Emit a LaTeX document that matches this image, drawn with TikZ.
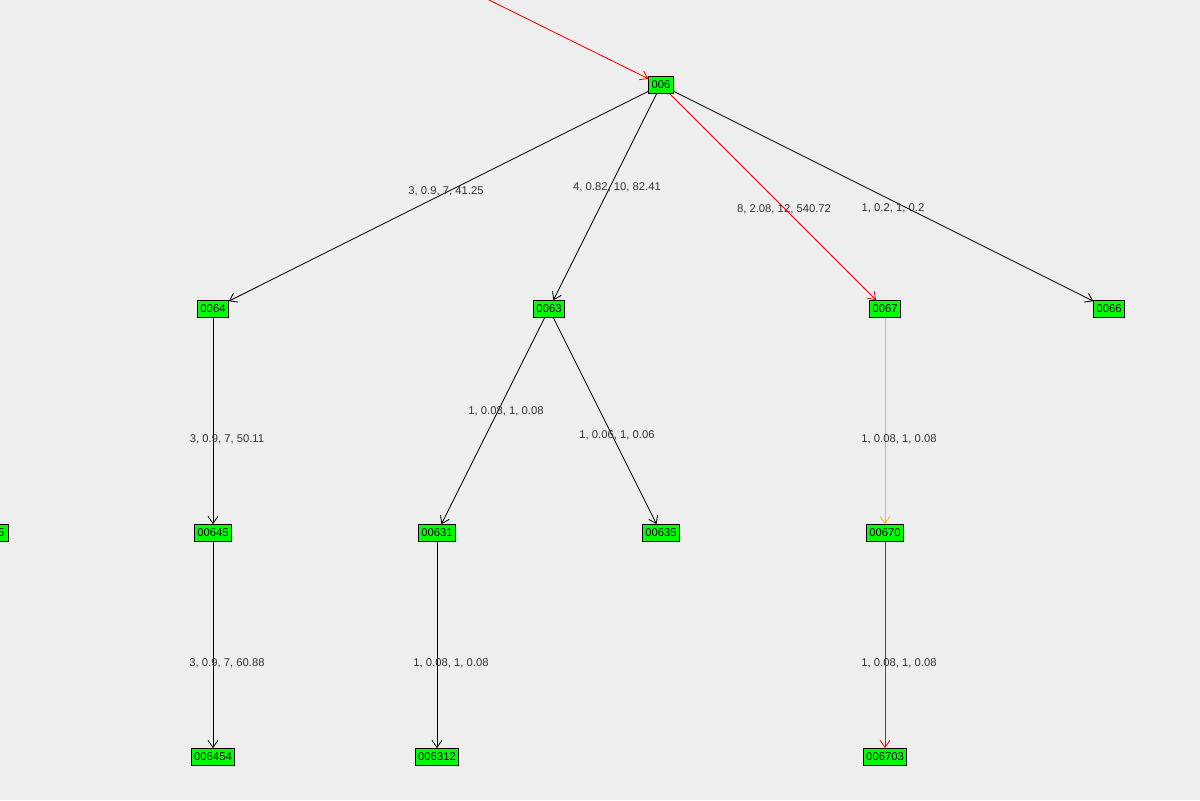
\documentclass[tikz,border=0pt]{standalone}
\usepackage{fontspec}
\setmainfont{Liberation Sans}
\usetikzlibrary{arrows.meta}
\definecolor{bgcol}{HTML}{EEEEEE}
\definecolor{nodegreen}{HTML}{00FF00}
\definecolor{edgeyellow}{HTML}{F0C020}
\tikzset{>={Straight Barb[length=5pt,width=7pt]}}
\tikzset{vertex/.style={draw=black,fill=nodegreen,rectangle,inner sep=2pt,minimum height=12pt,font=\fontsize{8}{9}\selectfont},
         elabel/.style={font=\fontsize{8}{9}\selectfont,text=black!80},
         every path/.append style={line width=0.6pt}}
\begin{document}
\begin{tikzpicture}[x=0.025cm,y=-0.025cm]
\fill[bgcol] (0,0) rectangle (1200,800);
\useasboundingbox (0,0) rectangle (1200,800);
\node (n006) at (661,85) [vertex]{006};
\node (n0064) at (213,309) [vertex]{0064};
\node (n0063) at (549,309) [vertex]{0063};
\node (n0067) at (885,309) [vertex]{0067};
\node (n0066) at (1109,309) [vertex]{0066};
\node (n00645) at (213,533) [vertex]{00645};
\node (n00631) at (437,533) [vertex]{00631};
\node (n00635) at (661,533) [vertex]{00635};
\node (n00670) at (885,533) [vertex]{00670};
\node (n006454) at (213,757) [vertex]{006454};
\node (n006312) at (437,757) [vertex]{006312};
\node (n006703) at (885,757) [vertex]{006703};
\node (nleft) at (9,533) [vertex,anchor=east,minimum width=30pt,align=right,text width=24pt]{5};
\coordinate (src) at (487,-1);
\draw [->,red] (src) -- (n006);
\draw [->] (n006) -- (n0064);
\draw [->] (n006) -- (n0063);
\draw [->,red] (n006) -- (n0067);
\draw [->] (n006) -- (n0066);
\draw [->] (n0064) -- (n00645);
\draw [->] (n0063) -- (n00631);
\draw [->] (n0063) -- (n00635);
\draw [->,edgeyellow] (n0067) -- (n00670);
\draw [->] (n00645) -- (n006454);
\draw [->] (n00631) -- (n006312);
\draw [->,red] (n00670) -- (n006703);
\node (l1) at (446,191) [elabel]{3, 0.9, 7, 41.25};
\node (l2) at (617,187) [elabel]{4, 0.82, 10, 82.41};
\node (l3) at (784,209) [elabel]{8, 2.08, 12, 540.72};
\node (l4) at (893,208) [elabel]{1, 0.2, 1, 0.2};
\node (l5) at (227,439) [elabel]{3, 0.9, 7, 50.11};
\node (l6) at (506,411) [elabel]{1, 0.08, 1, 0.08};
\node (l7) at (617,435) [elabel]{1, 0.06, 1, 0.06};
\node (l8) at (899,439) [elabel]{1, 0.08, 1, 0.08};
\node (l9) at (227,663) [elabel]{3, 0.9, 7, 60.88};
\node (l10) at (451,663) [elabel]{1, 0.08, 1, 0.08};
\node (l11) at (899,663) [elabel]{1, 0.08, 1, 0.08};
\end{tikzpicture}
\end{document}
